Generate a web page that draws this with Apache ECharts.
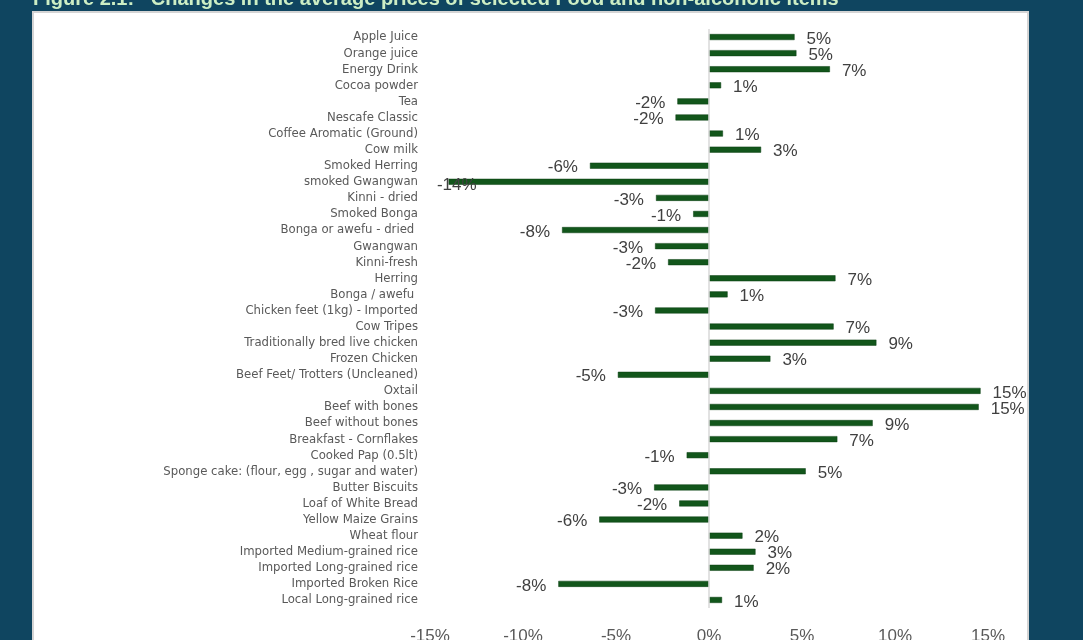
<!DOCTYPE html>
<html>
<head>
<meta charset="utf-8">
<script src="https://cdn.jsdelivr.net/npm/echarts@6/dist/echarts.min.js"></script>
<style>
html,body{margin:0;padding:0;background:#0f4560;}
#chart{width:1083px;height:640px;}
</style>
</head>
<body>
<div id="chart"></div>
<script>
const titleText = 'Figure 2.1:   Changes in the average prices of selected Food and non-alcoholic items';
const categories = [
  'Apple Juice','Orange juice','Energy Drink','Cocoa powder','Tea','Nescafe Classic',
  'Coffee Aromatic (Ground)','Cow milk','Smoked Herring','smoked Gwangwan','Kinni - dried',
  'Smoked Bonga','Bonga or awefu - dried ','Gwangwan','Kinni-fresh','Herring','Bonga / awefu ',
  'Chicken feet (1kg) - Imported','Cow Tripes','Traditionally bred live chicken','Frozen Chicken',
  'Beef Feet/ Trotters (Uncleaned)','Oxtail','Beef with bones','Beef without bones',
  'Breakfast - Cornflakes','Cooked Pap (0.5lt)','Sponge cake: (flour, egg , sugar and water)',
  'Butter Biscuits','Loaf of White Bread','Yellow Maize Grains','Wheat flour',
  'Imported Medium-grained rice','Imported Long-grained rice','Imported Broken Rice',
  'Local Long-grained rice'
];
const changes = [
  4.6, 4.7, 6.5, 0.65, -1.7, -1.8,
  0.75, 2.8, -6.4, -14.0, -2.85,
  -0.85, -7.9, -2.9, -2.2, 6.8, 1.0,
  -2.9, 6.7, 9.0, 3.3,
  -4.9, 14.6, 14.5, 8.8,
  6.9, -1.2, 5.2,
  -2.95, -1.6, -5.9, 1.8,
  2.5, 2.4, -8.1,
  0.7
];
const xTicks = { min: -15, max: 15, step: 5 };

const chart = echarts.init(document.getElementById('chart'));
const data = changes.map(function(v){
  const label = { position: v >= 0 ? 'right' : 'left', distance: 12 };
  // label pushed inside when it would fall outside the plot (as in the source)
  if (v < -13) { label.offset = [40, 4]; }
  return { value: v, label: label };
});
chart.setOption({
  backgroundColor: '#0f4560',
  animation: false,
  graphic: [
    { type: 'rect', shape: { x: 33, y: 12, width: 995, height: 640 },
      style: { fill: '#ffffff', stroke: '#d4d4d4', lineWidth: 2 }, z: -10 },
    { type: 'text', x: 33, y: -1,
      style: { text: titleText, fill: '#cdeec4', font: 'bold 20px "Liberation Sans", Arial, sans-serif',
               verticalAlign: 'middle', textAlign: 'left' } }
  ],
  grid: { left: 430, right: 95, top: 29, bottom: 32, containLabel: false, outerBoundsMode: 'none' },
  xAxis: {
    type: 'value', min: xTicks.min, max: xTicks.max, interval: xTicks.step,
    splitLine: { show: false }, axisLine: { show: false }, axisTick: { show: false },
    axisLabel: { formatter: function(v){ return v + '%'; }, color: '#595959',
                 fontFamily: 'Liberation Sans', fontSize: 17, margin: 20 }
  },
  yAxis: {
    type: 'category', data: categories, inverse: true,
    axisLine: { show: false }, axisTick: { show: false },
    axisLabel: { interval: 0, color: '#595959', fontFamily: '"Liberation Sans Narrow", "DejaVu Sans Condensed", sans-serif',
                 fontSize: 13, margin: 12 }
  },
  series: [{
    type: 'bar', data: data, barWidth: 6,
    itemStyle: { color: '#12561b', borderColor: '#0b3f12', borderWidth: 0.5 },
    label: { show: true, color: '#404040', fontFamily: 'Liberation Sans', fontSize: 17, offset: [0, 2],
             formatter: function(p){ return Math.round(p.value) + '%'; } },
    markLine: {
      silent: true, symbol: 'none', label: { show: false },
      lineStyle: { color: '#d9d9d9', type: 'solid', width: 1.5 },
      data: [{ xAxis: 0 }]
    }
  }]
});
</script>
</body>
</html>
